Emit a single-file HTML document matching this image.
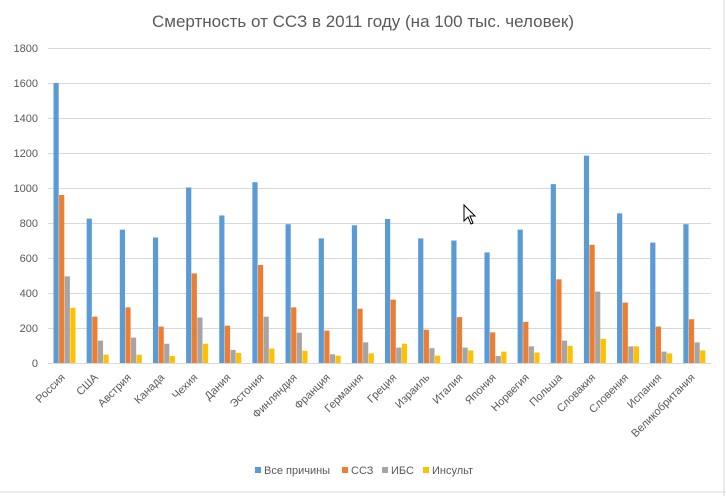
<!DOCTYPE html>
<html><head><meta charset="utf-8"><style>
body{margin:0;background:#fff;width:726px;height:496px;overflow:hidden}
svg{font-family:"Liberation Sans","DejaVu Sans",sans-serif}
</style></head><body>
<svg id="s" width="726" height="496" viewBox="0 0 726 496">
<rect x="0" y="0" width="726" height="496" fill="#fff"/>
<line x1="724" y1="0" x2="724" y2="496" stroke="#d9d9d9"/>
<line x1="0" y1="492" x2="726" y2="492" stroke="#d9d9d9"/>
<text x="363" y="27" text-anchor="middle" font-size="17" fill="#595959">Смертность от ССЗ в 2011 году (на 100 тыс. человек)</text>
<g id="grid" stroke="#d9d9d9" stroke-width="1"></g>
<g font-size="11" fill="#595959" text-anchor="end">
<text x="38" y="52">1800</text><text x="38" y="87">1600</text><text x="38" y="122">1400</text>
<text x="38" y="157">1200</text><text x="38" y="192">1000</text><text x="38" y="227">800</text>
<text x="38" y="262">600</text><text x="38" y="297">400</text><text x="38" y="332">200</text><text x="38" y="367">0</text>
</g>
<g id="bars"></g>
<g id="labels" font-size="11" fill="#595959" text-anchor="end">
<text>Россия</text><text>США</text><text>Австрия</text><text>Канада</text><text>Чехия</text>
<text>Дания</text><text>Эстония</text><text>Финляндия</text><text>Франция</text><text>Германия</text>
<text>Греция</text><text>Израиль</text><text>Италия</text><text>Япония</text><text>Норвегия</text>
<text>Польша</text><text>Словакия</text><text>Словения</text><text>Испания</text><text>Великобритания</text>
</g>
<g font-size="11" fill="#595959">
<rect x="255" y="467" width="6" height="6" fill="#5b9bd5"/><text x="264" y="474">Все причины</text>
<rect x="342" y="467" width="6" height="6" fill="#ed7d31"/><text x="351" y="474">ССЗ</text>
<rect x="382" y="467" width="6" height="6" fill="#a5a5a5"/><text x="391" y="474">ИБС</text>
<rect x="423" y="467" width="6" height="6" fill="#ffc000"/><text x="432" y="474">Инсульт</text>
</g>
<path d="M464 205 L464 221 L468 217 L471 224 L473 223 L470 216 L475 216 Z" fill="#fff" stroke="#000" stroke-width="1"/>
</svg>
<script>
var d=[[1600,960,495,315],[825,265,128,47],[762,318,145,47],[717,208,110,40],[1003,512,260,110],[843,213,75,57],[1033,560,265,82],[793,318,173,70],[712,185,50,42],[787,310,118,55],[823,362,88,110],[712,190,85,42],[700,262,88,72],[632,175,40,65],[762,235,95,60],[1022,478,128,98],[1185,675,408,138],[855,345,95,95],[688,208,65,55],[793,250,118,72]];
var c=["#5b9bd5","#ed7d31","#a5a5a5","#ffc000"],ns="http://www.w3.org/2000/svg";
var g=document.getElementById("grid");
for(var k=0;k<=9;k++){var y=363-35*k;var l=document.createElementNS(ns,"line");l.setAttribute("x1",48);l.setAttribute("x2",711);l.setAttribute("y1",y+.5);l.setAttribute("y2",y+.5);g.appendChild(l);}
var b=document.getElementById("bars"),W=33.15,labs=document.getElementById("labels").children;
for(var i=0;i<20;i++){var x0=48+W*i+5.5;for(var j=0;j<4;j++){var h=d[i][j]*0.175;var r=document.createElementNS(ns,"rect");r.setAttribute("x",x0+j*5.6);r.setAttribute("width",5.2);r.setAttribute("y",363-h);r.setAttribute("height",h);r.setAttribute("fill",c[j]);b.appendChild(r);}
var cx=48+W*(i+0.5)+1,cy=378;labs[i].setAttribute("x",cx);labs[i].setAttribute("y",cy);labs[i].setAttribute("transform","rotate(-45 "+cx+" "+cy+")");}
</script>
</body></html>
